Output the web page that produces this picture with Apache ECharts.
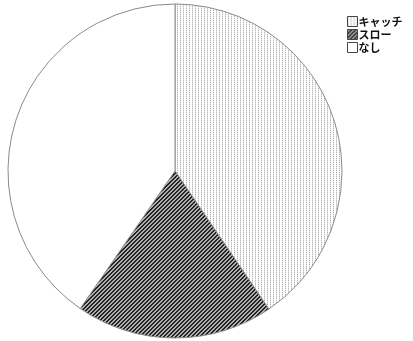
<!DOCTYPE html>
<html>
<head>
<meta charset="utf-8">
<script src="https://cdn.jsdelivr.net/npm/echarts@6/dist/echarts.min.js"></script>
<style>
  html, body { margin: 0; padding: 0; background: #fff; }
  #chart { width: 413px; height: 341px; }
</style>
</head>
<body>
<div id="chart"></div>
<script>
// Slice names and shares (percent)
var categories = ['キャッチ', 'スロー', 'なし'];
var values = [40.5, 19.1, 40.4];

// Fine dotted fill
function dotPattern() {
  var c = document.createElement('canvas');
  c.width = 3; c.height = 2;
  var g = c.getContext('2d');
  g.fillStyle = '#ffffff';
  g.fillRect(0, 0, 3, 2);
  g.fillStyle = '#b4b4b4';
  g.fillRect(0, 0, 1, 1);
  g.fillStyle = '#e6e6e6';
  g.fillRect(0, 1, 1, 1);
  return c;
}

// Diagonal hatching (lower-left to upper-right)
function hatchPattern() {
  var n = 4;
  var c = document.createElement('canvas');
  c.width = n; c.height = n;
  var g = c.getContext('2d');
  g.fillStyle = '#b0b0b0';
  g.fillRect(0, 0, n, n);
  g.fillStyle = '#222222';
  for (var y = 0; y < n; y++) {
    var x = (n - 1 - y);
    g.fillRect(x, y, 1, 1);
    g.fillRect((x + 1) % n, y, 1, 1);
  }
  return c;
}

var fills = [
  { image: dotPattern(), repeat: 'repeat' },
  { image: hatchPattern(), repeat: 'repeat' },
  '#ffffff'
];

var chart = echarts.init(document.getElementById('chart'));
chart.setOption({
  animation: false,
  backgroundColor: '#ffffff',
  legend: {
    orient: 'vertical',
    left: 342,
    top: 11,
    itemWidth: 10,
    itemHeight: 10,
    itemGap: 2,
    icon: 'rect',
    selectedMode: false,
    itemStyle: { borderColor: '#444', borderWidth: 1 },
    textStyle: { fontSize: 11, fontWeight: 'bold', color: '#111', fontFamily: 'Noto Sans CJK JP', padding: [0, 0, 0, -4] },
    data: categories
  },
  series: [{
    type: 'pie',
    center: [175, 171],
    radius: 167,
    startAngle: 90,
    clockwise: true,
    label: { show: false },
    labelLine: { show: false },
    emphasis: { disabled: true },
    itemStyle: { borderColor: '#8a8a8a', borderWidth: 1 },
    data: categories.map(function (name, i) {
      return { name: name, value: values[i], itemStyle: { color: fills[i] } };
    })
  }]
});
</script>
</body>
</html>
